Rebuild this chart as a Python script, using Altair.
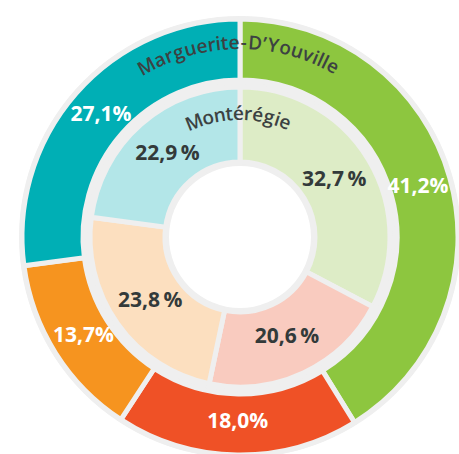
import math
import altair as alt
import pandas as pd

outer_values = [41.2, 18.0, 13.7, 27.1]
outer_colors = ["#8dc63f", "#ef5126", "#f6941f", "#00afb5"]
inner_values = [32.7, 20.6, 23.8, 22.9]
inner_colors = ["#ddecc6", "#f9cbbf", "#fcdfbf", "#b3e6e8"]
outer_name = "Marguerite-D\u2019Youville"
inner_name = "Montérégie"

CX, CY = 240, 237
GRAY = "#efefef"


def ring(values, colors):
    rows, acc = [], 0.0
    for i, (v, c) in enumerate(zip(values, colors)):
        rows.append({"i": i, "t0": acc, "t1": acc + v, "mid": acc + v / 2,
                     "color": c, "label": f"{v:.1f}".replace(".", ",")})
        acc += v
    return pd.DataFrame(rows)


# approximate relative glyph widths (em)
W = {"M": 0.86, "a": 0.58, "r": 0.40, "g": 0.60, "u": 0.60, "e": 0.57, "i": 0.26,
     "t": 0.36, "-": 0.40, "D": 0.72, "\u2019": 0.22, "Y": 0.62, "o": 0.60, "v": 0.54,
     "l": 0.26, "n": 0.60, "é": 0.57}


def curved(text, first_deg, last_deg):
    widths = [W.get(ch, 0.55) for ch in text]
    centers, acc = [], 0.0
    for w in widths:
        centers.append(acc + w / 2)
        acc += w
    c0, c1 = centers[0], centers[-1]
    rows = []
    for ch, c in zip(text, centers):
        deg = first_deg + (c - c0) / (c1 - c0) * (last_deg - first_deg)
        rows.append({"ch": ch, "theta": (deg % 360) / 3.6, "ang": deg % 360})
    return pd.DataFrame(rows)


outer = ring(outer_values, outer_colors)
inner = ring(inner_values, inner_colors)
outer["label"] = outer["label"] + "%"
inner["label"] = inner["label"] + "\u2009%"

theta_scale = alt.Scale(domain=[0, 100], range=[0, 2 * math.pi])
pos = dict(x=alt.value(CX), y=alt.value(CY))

bg = alt.Chart(pd.DataFrame({"t0": [0], "t1": [100]})).mark_arc(color=GRAY).encode(
    theta=alt.Theta("t0:Q", scale=theta_scale), theta2="t1:Q",
    radius=alt.value(221), radius2=alt.value(71), **pos)


def arcs(df, r_out, r_in):
    return alt.Chart(df).mark_arc(stroke=GRAY, strokeWidth=5).encode(
        theta=alt.Theta("t0:Q", scale=theta_scale), theta2="t1:Q",
        radius=alt.value(r_out), radius2=alt.value(r_in),
        color=alt.Color("color:N", scale=None), **pos)


def labels(df, r, color):
    return alt.Chart(df).mark_text(font="Open Sans", fontWeight="bold", fontSize=21,
                                   color=color, align="center", baseline="middle").encode(
        theta=alt.Theta("mid:Q", scale=theta_scale, stack=None),
        radius=alt.value(r), text="label:N", **pos)


def name_text(df, r):
    return alt.Chart(df).mark_text(font="Open Sans", fontWeight=600, fontSize=19,
                                   color="#3c4242", align="center", baseline="middle").encode(
        theta=alt.Theta("theta:Q", scale=theta_scale, stack=None),
        radius=alt.value(r), angle=alt.Angle("ang:Q", scale=None), text="ch:N", **pos)


chart = alt.layer(
    bg,
    arcs(outer, 218, 157),
    arcs(inner, 150, 75),
    labels(outer, 185, "white"),
    labels(inner, 110, "#333a3a"),
    name_text(curved(outer_name, -28.7, 28.5), 194),
    name_text(curved(inner_name, -21.8, 21.5), 123),
).properties(width=459, height=454, padding=0, autosize="none").configure_view(stroke=None)

chart.save("out.html", embed_options={"renderer": "svg", "actions": False})
